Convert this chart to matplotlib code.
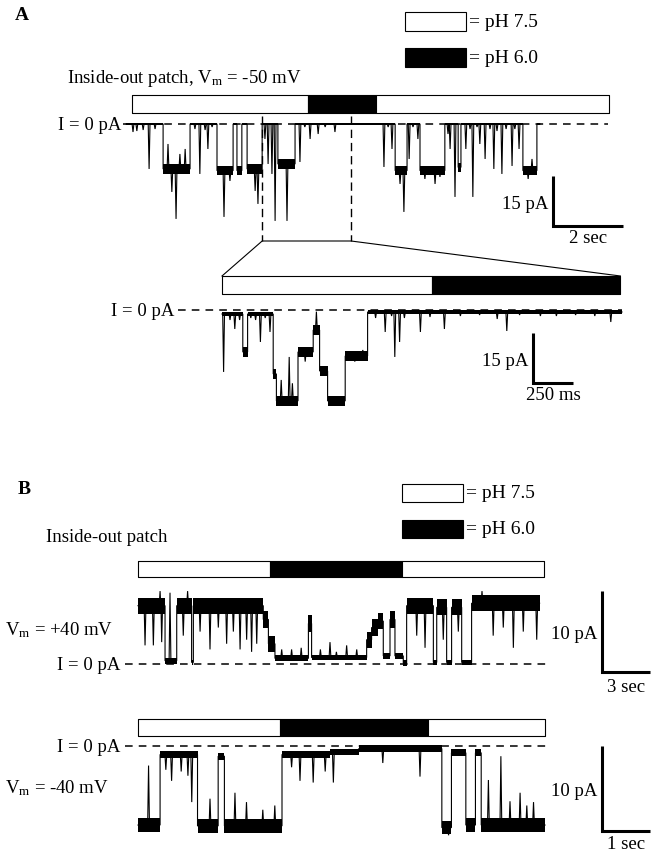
import matplotlib
matplotlib.use('Agg')
import matplotlib.pyplot as plt
import numpy as np

plt.rcParams['font.family'] = ['Liberation Serif', 'DejaVu Serif']
plt.rcParams['mathtext.fontset'] = 'custom'
plt.rcParams['mathtext.rm'] = 'Liberation Serif'
plt.rcParams['mathtext.it'] = 'Liberation Serif:italic'

# ---------------- data (time in s, current in pA) ----------------
# Panel A, upper trace (Vm = -50 mV)
a1_step_t = [0.00, 1.06, 1.83, 2.60, 3.06, 3.17, 3.31, 3.46, 3.89, 4.34, 4.83,
             7.69, 8.03, 8.40, 9.11, 9.49, 9.57, 11.34, 11.74]
a1_step_i = [0, -13.5, 0, -14, 0, -14, 0, -13.5, 0, -12, 0,
             -14, 0, -14, 0, -13, 0, -14, 0]
a1_end = 11.83
a1_spike_t = [0.20, 0.31, 0.49, 0.66, 0.83, 1.20, 1.31, 1.43, 1.54, 1.69,
              1.97, 2.11, 2.26, 2.34, 2.46, 2.80, 2.97, 3.69, 3.77, 3.97,
              4.06, 4.17, 4.26, 4.60, 4.97, 5.11, 5.26, 5.49, 5.69, 5.97,
              7.37, 7.49, 7.60, 7.83, 7.94, 8.09, 8.20, 8.34, 8.54, 8.83,
              8.97, 9.20, 9.26, 9.40, 9.71, 9.83, 9.91, 10.03, 10.11, 10.26,
              10.40, 10.51, 10.60, 10.74, 10.86, 11.03, 11.11, 11.23, 11.49, 11.60]
a1_spike_i = [-2.4, -2.1, -1.8, -13.5, -1.5, -6.0, -20.4, -28.5, -9.0, -7.5,
              -1.5, -15.0, -1.8, -7.5, -0.9, -27.9, -17.1, -20.1, -24.0, -4.5,
              -12.0, -15.0, -29.1, -29.1, -11.4, -0.9, -4.5, -3.0, -0.9, -2.4,
              -12.9, -0.9, -7.5, -18.0, -26.4, -10.5, -0.9, -4.5, -16.5, -18.0,
              -15.9, -3.0, -7.5, -21.9, -7.5, -1.5, -21.9, -0.9, -6.0, -10.5,
              -1.5, -13.5, -2.1, -15.0, -1.5, -12.6, -1.5, -7.5, -16.5, -10.5]
a1_ph_t = [0.17, 5.20, 7.14, 13.80]          # pH 7.5 | pH 6.0 | pH 7.5
a1_zoom_t = [3.89, 6.43]                      # window expanded below
a1_scale = (2, 15)                            # s, pA

# Panel A, expanded trace
a2_step_t = [0.00, 0.13, 0.16, 0.32, 0.34, 0.475, 0.57, 0.61, 0.66, 0.77, 0.91]
a2_step_i = [-1.2, -12.6, -1.2, -19.2, -27.3, -12.6, -6.0, -18.3, -27.3, -13.8, -0.6]
a2_end = 2.50
a2_spike_t = [0.01, 0.05, 0.08, 0.11, 0.18, 0.21, 0.24, 0.27, 0.30, 0.37,
              0.42, 0.44, 0.52, 0.59, 0.83, 0.88, 0.96, 1.02, 1.06, 1.08,
              1.11, 1.14, 1.24, 1.30, 1.39, 1.49, 1.61, 1.72, 1.78, 1.86,
              1.99, 2.09, 2.21, 2.33, 2.43]
a2_spike_i = [-18.6, -3.0, -5.7, -3.0, -2.4, -3.0, -9.6, -2.4, -6.6, -21.0,
              -14.1, -22.0, -15.5, -0.5, -15.5, -12.0, -2.4, -6.6, -1.8, -14.1,
              -9.6, -2.4, -6.6, -2.1, -5.7, -1.8, -1.5, -2.7, -6.3, -1.5,
              -1.8, -1.8, -1.5, -1.8, -3.6]
a2_ph_t = [0.00, 1.31, 2.49]
a2_scale = (0.25, 15)

# Panel B, Vm = +40 mV
b1_step_t = [0.00, 1.69, 2.42, 3.35, 3.46, 7.83, 8.15, 8.56, 10.65, 10.85,
             14.29, 14.60, 15.02, 15.33, 15.75, 16.06, 16.58, 16.79, 18.46, 18.67,
             19.29, 19.60, 20.23, 20.85]
b1_step_i = [7.2, 0.4, 7.2, 0.2, 7.2, 5.5, 2.5, 0.7, 5.0, 0.8,
             3.0, 4.5, 5.3, 1.0, 5.5, 1.0, 0.1, 7.2, 0.2, 7.0,
             0.2, 7.0, 0.2, 7.5]
b1_end = 25.1
b1_spike_t = [0.44, 0.96, 1.38, 1.48, 2.00, 2.83, 3.10, 3.88, 4.50, 5.02,
              5.54, 5.96, 6.38, 6.79, 7.10, 7.42, 8.98, 9.60, 10.20, 11.40,
              12.00, 12.40, 13.04, 13.67, 17.42, 17.94, 19.08, 20.02, 21.50, 22.20,
              22.83, 23.46, 24.08, 24.92]
b1_spike_i = [2.3, 2.3, 9.0, 2.7, 8.8, 3.5, 9.0, 4.0, 1.8, 4.5,
              2.5, 4.0, 1.8, 3.0, 1.5, 2.5, 1.8, 1.8, 2.0, 1.8,
              2.7, 1.5, 2.3, 1.8, 3.5, 2.0, 3.0, 4.0, 9.0, 3.5,
              4.5, 2.0, 4.0, 3.0]
b1_ph_t = [0.00, 8.25, 16.50, 25.40]
b1_scale = (3, 10)

# Panel B, Vm = -40 mV
b2_step_t = [0.00, 0.46, 1.24, 1.67, 1.80, 3.00, 4.00, 4.60, 6.33, 6.53, 6.83, 7.03, 7.15]
b2_step_i = [-9.3, -1.0, -9.4, -1.2, -9.4, -1.0, -0.7, -0.3, -9.6, -0.8, -9.3, -0.8, -9.3]
b2_end = 8.48
b2_spike_t = [0.22, 0.58, 0.70, 0.90, 1.04, 1.12, 1.50, 2.02, 2.26, 2.60,
              2.85, 3.20, 3.375, 3.65, 3.90, 4.07, 5.10, 5.875, 6.47, 7.30,
              7.56, 7.75, 7.96, 8.10, 8.24]
b2_spike_i = [-2.3, -2.8, -4.1, -3.0, -3.5, -6.6, -6.2, -5.5, -6.6, -7.5,
              -7.0, -2.5, -4.1, -4.3, -3.0, -4.3, -2.0, -3.6, -10.5, -4.0,
              -1.2, -6.5, -5.5, -7.0, -6.6]
b2_ph_t = [0.00, 2.96, 6.04, 8.48]
b2_scale = (1, 10)

ph_labels = ['= pH 7.5', '= pH 6.0']

# ---------------- layout (pixels) ----------------
W, H = 654, 853
fig = plt.figure(figsize=(W / 100, H / 100), dpi=100)
ov = fig.add_axes([0, 0, 1, 1])
ov.set_xlim(0, W)
ov.set_ylim(H, 0)
ov.axis('off')

FS = 13.5

def panel(P):
    ax = fig.add_axes([0, 1 - P['bot'] / H, 1, (P['bot'] - P['top']) / H])
    ax.set_xlim(-P['x0'] / P['pps'], (W - P['x0']) / P['pps'])
    ax.set_ylim((P['y0'] - P['bot']) / P['ppa'], (P['y0'] - P['top']) / P['ppa'])
    ax.axis('off')
    return ax

def tx(P, px):
    return (px - P['x0']) / P['pps']

def iy(P, py):
    return (P['y0'] - py) / P['ppa']

def build(step_t, step_i, end, spike_t, spike_i, w):
    st = np.asarray(step_t)
    ev = []
    for k in range(len(step_t)):
        prev = step_i[k - 1] if k > 0 else step_i[0]
        ev.append((step_t[k], 0, prev))
        ev.append((step_t[k], 1, step_i[k]))
    ev.append((end, 0, step_i[-1]))
    for ts, si in zip(spike_t, spike_i):
        k = max(np.searchsorted(st, ts, side='right') - 1, 0)
        b = step_i[k]
        ev += [(ts - w, 0.5, b), (ts, 0.5, si), (ts + w, 0.5, b)]
    ev.sort(key=lambda e: (e[0], e[1]))
    return [e[0] for e in ev], [e[2] for e in ev]

def draw_trace(ax, P, step_t, step_i, end, spike_t, spike_i, n_closed, n_open, thr):
    w = 0.9 / P['pps']
    t, i = build(step_t, step_i, end, spike_t, spike_i, w)
    ax.plot(t, i, color='k', lw=0.8, solid_joinstyle='miter')
    edges = list(step_t) + [end]
    for k, L in enumerate(step_i):
        n = n_closed if abs(L) < thr else n_open
        ax.fill_between([edges[k], edges[k + 1]], L - n, L + n, color='k', lw=0)

def draw_bar(ax, P, ph_t, colors, ytop, ybot):
    segs = [(ph_t[k], ph_t[k + 1] - ph_t[k]) for k in range(len(ph_t) - 1)]
    ax.broken_barh(segs, (iy(P, ybot), iy(P, ytop) - iy(P, ybot)),
                   facecolors=colors, edgecolor='k', linewidth=0.8)

def zero_line(ax, P, px0, px1, label_right):
    ax.plot([tx(P, px0), tx(P, px1)], [0, 0], color='k', lw=1.1, ls=(0, (5, 4)))
    ov.text(label_right, P['y0'], 'I = 0 pA', ha='right', va='center', fontsize=FS)

def scale_bar(ax, P, cx, cy, sc, lab_i, lab_t, lab_t_y):
    t0, i0 = tx(P, cx), iy(P, cy)
    dt, di = sc
    ax.plot([t0, t0, t0 + dt], [i0 + di, i0, i0], color='k', lw=2.2,
            solid_joinstyle='miter', solid_capstyle='butt')
    ybar_mid = P['y0'] - (i0 + di / 2) * P['ppa']
    ov.text(cx - 5, ybar_mid + 2, lab_i, ha='right', va='center', fontsize=FS)
    ov.text(cx + dt * P['pps'] / 2, lab_t_y, lab_t, ha='center', va='center', fontsize=FS)

def legend(x0, x1, ys, h):
    for y, c, lab in zip(ys, ['white', 'black'], ph_labels):
        ov.add_patch(plt.Rectangle((x0, y), x1 - x0, h, facecolor=c, edgecolor='k', lw=0.8))
        ov.text(x1 + 3, y + h / 2, lab, ha='left', va='center', fontsize=14)

ph_cols3 = ['white', 'black', 'white']

# ---------------- Panel A ----------------
ov.text(22, 15, 'A', ha='center', va='center', fontsize=14, fontweight='bold')
legend(405, 466, [13, 49], 19)
ov.text(67, 78, 'Inside-out patch, V$_\\mathrm{m}$ = -50 mV', ha='left', va='center', fontsize=FS)

A1 = dict(x0=126, y0=125, pps=35, ppa=3.33, top=85, bot=255)
ax1 = panel(A1)
draw_bar(ax1, A1, a1_ph_t, ph_cols3, 96, 114)
zero_line(ax1, A1, 123, 608, 121)
draw_trace(ax1, A1, a1_step_t, a1_step_i, a1_end, a1_spike_t, a1_spike_i, 0.35, 1.4, 3)
scale_bar(ax1, A1, 553, 227, a1_scale, '15 pA', '2 sec', 238)
for tz in a1_zoom_t:
    ax1.plot([tz, tz], [iy(A1, 117), iy(A1, 242)], color='k', lw=1.0, ls=(0, (6, 3.5)))

A2 = dict(x0=222, y0=311, pps=160, ppa=3.33, top=265, bot=420)
ax2 = panel(A2)
draw_bar(ax2, A2, a2_ph_t, ['white', 'black'], 277, 295)
zero_line(ax2, A2, 178, 622, 174)
draw_trace(ax2, A2, a2_step_t, a2_step_i, a2_end, a2_spike_t, a2_spike_i, 0.6, 1.6, 3)
scale_bar(ax2, A2, 533, 384, a2_scale, '15 pA', '250 ms', 396)

# connector between the zoom window and the expanded bar
zx = [A1['x0'] + t * A1['pps'] for t in a1_zoom_t]
bx = [A2['x0'] + a2_ph_t[0] * A2['pps'], A2['x0'] + a2_ph_t[-1] * A2['pps']]
ov.plot([bx[0], zx[0], zx[1], bx[1]], [277, 242, 242, 277], color='k', lw=0.8)

# ---------------- Panel B ----------------
ov.text(24, 490, 'B', ha='center', va='center', fontsize=14, fontweight='bold')
legend(402, 463, [485, 521], 18)
ov.text(46, 537, 'Inside-out patch', ha='left', va='center', fontsize=FS)

B1 = dict(x0=138, y0=665, pps=16, ppa=8.1, top=550, bot=700)
bx1 = panel(B1)
draw_bar(bx1, B1, b1_ph_t, ph_cols3, 562, 578)
zero_line(bx1, B1, 125, 548, 120)
draw_trace(bx1, B1, b1_step_t, b1_step_i, b1_end, b1_spike_t, b1_spike_i, 0.35, 1.0, 1.2)
scale_bar(bx1, B1, 602, 673, b1_scale, '10 pA', '3 sec', 688)
ov.text(5, 630, 'V$_\\mathrm{m}$ = +40 mV', ha='left', va='center', fontsize=FS)

B2 = dict(x0=138, y0=747, pps=48, ppa=8.5, top=710, bot=853)
bx2 = panel(B2)
draw_bar(bx2, B2, b2_ph_t, ph_cols3, 720, 737)
zero_line(bx2, B2, 125, 548, 120)
draw_trace(bx2, B2, b2_step_t, b2_step_i, b2_end, b2_spike_t, b2_spike_i, 0.4, 0.8, 1.5)
scale_bar(bx2, B2, 602, 832, b2_scale, '10 pA', '1 sec', 845)
ov.text(5, 788, 'V$_\\mathrm{m}$ = -40 mV', ha='left', va='center', fontsize=FS)

fig.savefig('out.png', dpi=100)
